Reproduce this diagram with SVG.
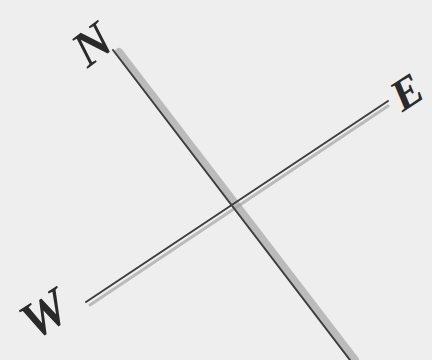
<svg xmlns="http://www.w3.org/2000/svg" width="432" height="360" viewBox="0 0 432 360">
<style>
.lbl{font-family:"Liberation Serif",serif;font-weight:bold;font-style:italic;fill:#2a2a2a;text-anchor:middle;dominant-baseline:central}
.ln{stroke:#3e3e3e;stroke-width:2;stroke-linecap:round;fill:none}
.sh{stroke:#a0a0a0;stroke-linecap:round;fill:none;opacity:0.65}
</style>
<rect width="432" height="360" fill="#eeeeee"/>
<g id="connectors">
<line class="sh" x1="119" y1="52" x2="355" y2="360" stroke-width="8"/>
<line class="sh" x1="90" y1="305" x2="388" y2="106" stroke-width="3" opacity="0.3"/>
<line class="ln" x1="113" y1="50" x2="350" y2="360"/>
<line class="ln" x1="86" y1="302" x2="388" y2="101"/>
</g>
<g id="N"><text class="lbl" x="92" y="44" font-size="50" transform="rotate(-37 92 44)">N</text></g>
<g id="E"><text class="lbl" x="407" y="92" font-size="44" transform="rotate(-33 407 92)">E</text></g>
<g id="W"><text class="lbl" x="44" y="314" font-size="52" transform="rotate(-33 44 314)">W</text></g>
</svg>
